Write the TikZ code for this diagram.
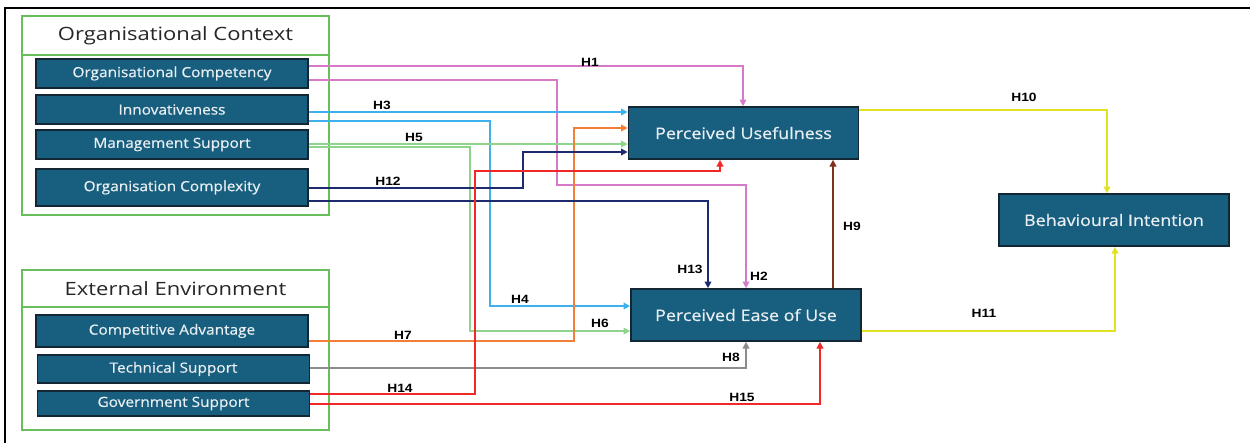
\documentclass[tikz,border=0pt]{standalone}
\usepackage{fontspec}
\setmainfont{Open Sans}
\newfontfamily\boxfont[FakeBold=0.6]{Open Sans}
\newfontfamily\labfont{Liberation Sans}
\usetikzlibrary{arrows.meta}
\newcommand{\widetxt}[2]{\scalebox{#1}[1]{#2}}
\definecolor{boxfill}{RGB}{24,94,126}
\definecolor{boxdraw}{RGB}{18,38,52}
\definecolor{boxtext}{RGB}{232,238,242}
\definecolor{grpgreen}{RGB}{104,190,92}
\definecolor{cpink}{RGB}{214,122,200}
\definecolor{cblue}{RGB}{62,176,236}
\definecolor{cgreen}{RGB}{142,212,140}
\definecolor{cnavy}{RGB}{30,42,110}
\definecolor{corange}{RGB}{240,128,56}
\definecolor{cgray}{RGB}{140,140,140}
\definecolor{cred}{RGB}{240,40,40}
\definecolor{cbrown}{RGB}{128,50,30}
\definecolor{cyellow}{RGB}{226,226,34}
\begin{document}
\begin{tikzpicture}[x=0.6pt,y=-0.6pt,
  srcbox/.style={draw=boxdraw,line width=1pt,fill=boxfill,text=boxtext,
    font=\boxfont\fontsize{8.4}{10}\selectfont,minimum width=163.2pt,inner sep=0pt},
  bigbox/.style={draw=boxdraw,line width=1pt,fill=boxfill,text=boxtext,
    font=\boxfont\fontsize{9.5}{11}\selectfont,minimum width=138pt,minimum height=31.2pt,inner sep=0pt},
  grp/.style={draw=grpgreen,line width=1.1pt},
  grptitle/.style={font=\fontsize{11}{13}\selectfont,text=black!85,inner sep=0pt},
  hlab/.style={font=\labfont\bfseries\fontsize{7.2}{8}\selectfont,inner sep=0pt},
  conn/.style={line width=1.1pt,-{Triangle[length=4pt,width=4pt]}},
]
\useasboundingbox (0,0) rectangle (1250,443);
% outer frame
\draw[line width=1.4pt] (5,443) -- (5,8) -- (1250,8);

% groups
\draw[grp] (22,16) rectangle (329,215);
\draw[grp] (22,55) -- (329,55);
\node[grptitle] (gt1) at (175.5,35.5) {\widetxt{1.2}{Organisational Context}};
\draw[grp] (22,270) rectangle (329,430);
\draw[grp] (22,307) -- (329,307);
\node[grptitle] (gt2) at (175.5,289) {\widetxt{1.2}{External Environment}};

% source boxes
\node[srcbox,minimum height=17.4pt] (oc1) at (172,73.5) {\widetxt{1.1}{Organisational Competency}};
\node[srcbox,minimum height=17.4pt] (oc2) at (172,109.5) {\widetxt{1.1}{Innovativeness}};
\node[srcbox,minimum height=17.4pt] (oc3) at (172,144.5) {\widetxt{1.1}{Management Support}};
\node[srcbox,minimum height=22.2pt] (oc4) at (172,187.5) {\widetxt{1.1}{Organisation Complexity}};
\node[srcbox,minimum height=19.2pt] (ee1) at (172,331) {\widetxt{1.1}{Competitive Advantage}};
\node[srcbox,minimum height=16.8pt] (ee2) at (173.5,369) {\widetxt{1.1}{Technical Support}};
\node[srcbox,minimum height=15pt] (ee3) at (173.5,403.5) {\widetxt{1.1}{Government Support}};

% target boxes
\node[bigbox] (pu) at (743.5,133) {\widetxt{1.13}{Perceived Usefulness}};
\node[bigbox] (peu) at (746,315) {\widetxt{1.13}{Perceived Ease of Use}};
\node[bigbox] (bi) at (1114,220) {\widetxt{1.13}{Behavioural Intention}};

% connectors
\draw[conn,cpink] (oc1.east |- 0,66) -| (743,0 |- pu.north);
\draw[conn,cpink] (oc1.east |- 0,80) -| (557,185) -| (746,0 |- peu.north);
\draw[conn,cblue] (oc2.east |- 0,112) -- (pu.west |- 0,112);
\draw[conn,cblue] (oc2.east |- 0,121) -| (490,306) -- (peu.west |- 0,306);
\draw[conn,cgreen] (oc3.east |- 0,144) -- (pu.west |- 0,144);
\draw[conn,cgreen] (oc3.east |- 0,147) -| (470,331) -- (peu.west |- 0,331);
\draw[conn,corange] (ee1.east |- 0,341) -| (574,128) -- (pu.west |- 0,128);
\draw[conn,cgray] (ee2.east |- 0,368) -| (746,0 |- peu.south);
\draw[conn,cbrown,line width=1.6pt] (833,0 |- peu.north) -- (833,0 |- pu.south);
\draw[conn,cyellow,line width=1.7pt] (pu.east |- 0,110) -| (1107,0 |- bi.north);
\draw[conn,cyellow,line width=1.7pt] (peu.east |- 0,331) -| (1115,0 |- bi.south);
\draw[conn,cnavy] (oc4.east |- 0,188) -| (523,152) -- (pu.west |- 0,152);
\draw[conn,cnavy] (oc4.east |- 0,201) -| (708,0 |- peu.north);
\draw[conn,cred,line width=1.4pt] (ee3.east |- 0,394) -| (475,171) -| (720,0 |- pu.south);
\draw[conn,cred,line width=1.4pt] (ee3.east |- 0,404) -| (820,0 |- peu.south);

% labels
\node[hlab] (h1) at (590,62) {\widetxt{1.15}{H1}};
\node[hlab] (h2) at (759,276) {\widetxt{1.15}{H2}};
\node[hlab] (h3) at (382,105) {\widetxt{1.15}{H3}};
\node[hlab] (h4) at (520,299) {\widetxt{1.15}{H4}};
\node[hlab] (h5) at (414,137) {\widetxt{1.15}{H5}};
\node[hlab] (h6) at (600,323) {\widetxt{1.15}{H6}};
\node[hlab] (h7) at (403,335) {\widetxt{1.15}{H7}};
\node[hlab] (h8) at (731,357) {\widetxt{1.15}{H8}};
\node[hlab] (h9) at (852,226) {\widetxt{1.15}{H9}};
\node[hlab] (h10) at (1024,97) {\widetxt{1.15}{H10}};
\node[hlab] (h11) at (984,313) {\widetxt{1.15}{H11}};
\node[hlab] (h12) at (388,181) {\widetxt{1.15}{H12}};
\node[hlab] (h13) at (690,269) {\widetxt{1.15}{H13}};
\node[hlab] (h14) at (400,388) {\widetxt{1.15}{H14}};
\node[hlab] (h15) at (742,397) {\widetxt{1.15}{H15}};
\end{tikzpicture}
\end{document}
